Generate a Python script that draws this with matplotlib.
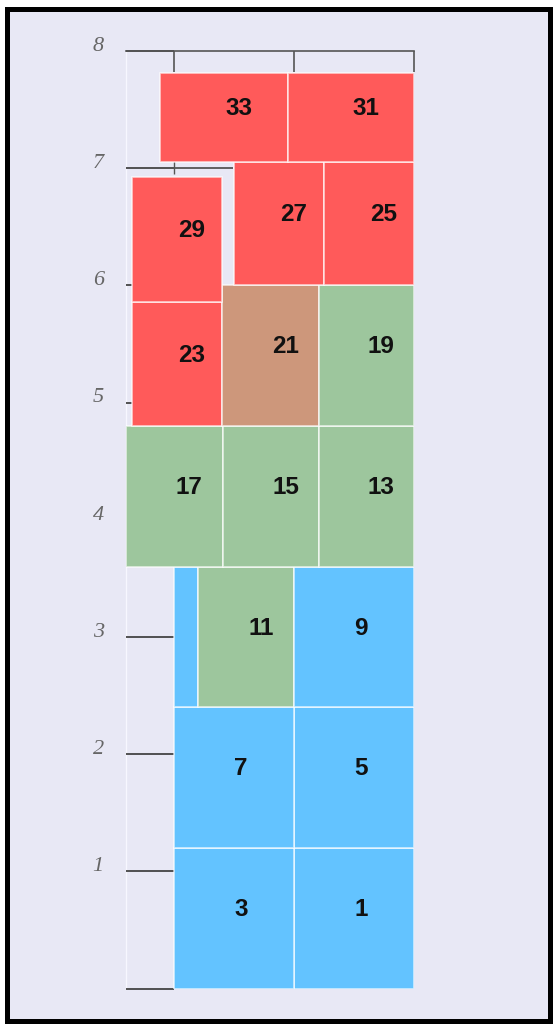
import matplotlib
matplotlib.use("Agg")
import matplotlib.pyplot as plt
from matplotlib.patches import Rectangle
from matplotlib.transforms import ScaledTranslation

# cells: label, group, left/right/bottom/top
labels = ["1", "3", "5", "7", "", "11", "9", "17", "15", "13",
          "23", "21", "19", "29", "27", "25", "33", "31"]
groups = ["blue", "blue", "blue", "blue", "blue", "green", "blue", "green", "green", "green",
          "red", "brown", "green", "red", "red", "red", "red", "red"]
left = [1.0, 0.0, 1.0, 0.0, 0.0, 0.2, 1.0, -0.4, 0.405, 1.205,
        -0.35, 0.4, 1.205, -0.35, 0.5, 1.25, -0.117, 0.95]
right = [2.0, 1.0, 2.0, 1.0, 0.2, 1.0, 2.0, 0.405, 1.205, 2.0,
         0.4, 1.205, 2.0, 0.4, 1.25, 2.0, 0.95, 2.0]
bottom = [0.0, 0.0, 1.2, 1.2, 2.4, 2.4, 2.4, 3.6, 3.6, 3.6,
          4.8, 4.8, 4.8, 5.86, 6.0, 6.0, 7.05, 7.05]
top = [1.2, 1.2, 2.4, 2.4, 3.6, 3.6, 3.6, 4.8, 4.8, 4.8,
       5.86, 6.0, 6.0, 6.92, 7.05, 7.05, 7.81, 7.81]

y_ticks = [0, 1, 2, 3, 4, 5, 6, 7, 8]
y_tick_labels = ["", "1", "2", "3", "4", "5", "6", "7", "8"]
x_ticks = [0, 1, 2]

palette = {"blue": "#63c3ff", "green": "#9dc69d", "brown": "#cd977b", "red": "#ff5a5a"}

fig = plt.figure(figsize=(5.55, 10.26), dpi=100, facecolor="white")
fig.patches.append(Rectangle((6.5 / 555, 5.5 / 1026), 543 / 555, 1012 / 1026,
                             transform=fig.transFigure, facecolor="#e8e8f5",
                             edgecolor="black", linewidth=3.6, zorder=-5))

ax = fig.add_axes([126 / 555, 1 - 988.5 / 1026, 288 / 555, (988.5 - 50.9) / 1026])
ax.set_facecolor("none")
ax.set_axisbelow(True)

widths = [r - l for l, r in zip(left, right)]
heights = [t - b for b, t in zip(bottom, top)]
colors = [palette[g] for g in groups]
ax.bar(left, heights, width=widths, bottom=bottom, align="edge", color=colors,
       edgecolor=(1, 1, 1, 0.7), linewidth=1.2, zorder=2)

for lab, g, l, r, b, t in zip(labels, groups, left, right, bottom, top):
    if not lab:
        continue
    dx = 0.06 if g == "blue" else 0.125
    ax.text((l + r) / 2 + dx, (b + t) / 2 + 0.075, lab, ha="center", va="center",
            fontsize=17.5, fontweight="bold", family="Liberation Sans",
            color="#111111", zorder=3)

# odd extra line at 7
ax.hlines(7, -0.4, 0.49, color="#555555", linewidth=1.3, zorder=0.6)
ax.vlines(0, 6.95, 7.06, color="#555555", linewidth=1.0, zorder=0.6)

ax.set_xlim(-0.4, 2.0)
ax.set_ylim(0, 8)
ax.set_xticks(x_ticks)
ax.xaxis.tick_top()
ax.set_xticklabels([])
ax.set_yticks(y_ticks)
ax.set_yticklabels(y_tick_labels, fontstyle="italic", family="Liberation Serif")
ax.tick_params(axis="x", direction="in", length=15, width=1.2, color="#555555")
ax.tick_params(axis="y", direction="in", length=34.5, width=1.3, color="#444444",
               pad=16, labelsize=16, labelcolor="#666666")
ax.yaxis.get_major_ticks()[0].tick1line.set_color("#999999")

offset = ScaledTranslation(0, 7 / 100, fig.dpi_scale_trans)
for lbl in ax.get_yticklabels():
    lbl.set_transform(lbl.get_transform() + offset)

for side in ["right", "bottom"]:
    ax.spines[side].set_visible(False)
ax.spines["top"].set_color("#555555")
ax.spines["top"].set_linewidth(1.2)
ax.spines["left"].set_color("#f7f7ff")
ax.spines["left"].set_linewidth(1.0)
ax.spines["left"].set_zorder(0.5)

fig.savefig("out.png", dpi=100, facecolor="white")
